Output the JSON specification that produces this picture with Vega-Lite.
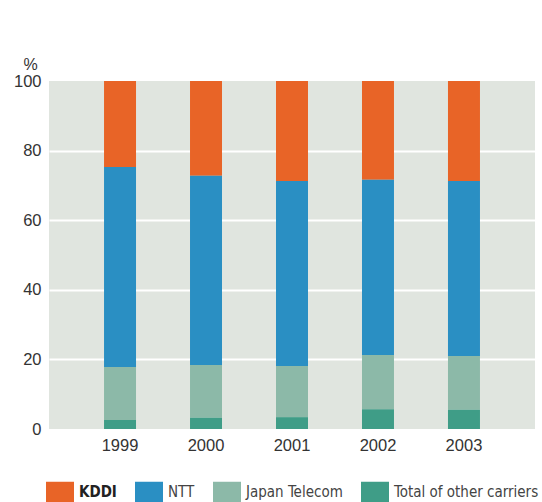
{
  "$schema": "https://vega.github.io/schema/vega-lite/v6.json",
  "autosize": "none",
  "width": 486,
  "height": 348,
  "padding": {"left": 49, "top": 81, "right": 7, "bottom": 73},
  "background": "white",
  "data": {
    "values": [
      {"year": "1999", "carrier": "KDDI", "order": 4, "share": 24.7},
      {"year": "1999", "carrier": "NTT", "order": 3, "share": 57.5},
      {"year": "1999", "carrier": "Japan Telecom", "order": 2, "share": 15.2},
      {"year": "1999", "carrier": "Total of other carriers", "order": 1, "share": 2.6},
      {"year": "2000", "carrier": "KDDI", "order": 4, "share": 27.2},
      {"year": "2000", "carrier": "NTT", "order": 3, "share": 54.4},
      {"year": "2000", "carrier": "Japan Telecom", "order": 2, "share": 15.2},
      {"year": "2000", "carrier": "Total of other carriers", "order": 1, "share": 3.2},
      {"year": "2001", "carrier": "KDDI", "order": 4, "share": 28.7},
      {"year": "2001", "carrier": "NTT", "order": 3, "share": 53.2},
      {"year": "2001", "carrier": "Japan Telecom", "order": 2, "share": 14.7},
      {"year": "2001", "carrier": "Total of other carriers", "order": 1, "share": 3.4},
      {"year": "2002", "carrier": "KDDI", "order": 4, "share": 28.4},
      {"year": "2002", "carrier": "NTT", "order": 3, "share": 50.3},
      {"year": "2002", "carrier": "Japan Telecom", "order": 2, "share": 15.6},
      {"year": "2002", "carrier": "Total of other carriers", "order": 1, "share": 5.7},
      {"year": "2003", "carrier": "KDDI", "order": 4, "share": 28.7},
      {"year": "2003", "carrier": "NTT", "order": 3, "share": 50.3},
      {"year": "2003", "carrier": "Japan Telecom", "order": 2, "share": 15.5},
      {"year": "2003", "carrier": "Total of other carriers", "order": 1, "share": 5.5}
    ]
  },
  "mark": {"type": "bar"},
  "encoding": {
    "x": {
      "field": "year",
      "type": "ordinal",
      "scale": {"paddingInner": 0.628, "paddingOuter": 0.64},
      "axis": {
        "title": null,
        "labelAngle": 0,
        "ticks": false,
        "domain": false,
        "labelPadding": 8,
        "labelFont": "Liberation Sans",
        "labelFontSize": 16.5,
        "labelColor": "#333333"
      }
    },
    "y": {
      "field": "share",
      "type": "quantitative",
      "stack": "zero",
      "scale": {"domain": [0, 100], "nice": false},
      "axis": {
        "values": [0, 20, 40, 60, 80, 100],
        "title": "%",
        "titleAngle": 0,
        "titleAlign": "center",
        "titleBaseline": "alphabetic",
        "titleX": -19,
        "titleY": -12,
        "titleFont": "Liberation Sans",
        "titleFontSize": 16,
        "titleFontWeight": "normal",
        "titleColor": "#333333",
        "ticks": false,
        "domain": false,
        "labelPadding": 8,
        "labelFont": "Liberation Sans",
        "labelFontSize": 16.5,
        "labelColor": "#333333",
        "gridColor": "#ffffff",
        "gridWidth": 2,
        "gridOpacity": {"condition": {"test": "datum.value === 0 || datum.value === 100", "value": 0}, "value": 1}
      }
    },
    "color": {
      "field": "carrier",
      "type": "nominal",
      "scale": {
        "domain": ["KDDI", "NTT", "Japan Telecom", "Total of other carriers"],
        "range": ["#e86427", "#2a8fc3", "#8cb9a8", "#3f9d87"]
      },
      "legend": {
        "title": null,
        "orient": "none",
        "legendX": -3,
        "legendY": 397,
        "direction": "horizontal",
        "columns": 4,
        "columnPadding": 18,
        "symbolType": "M-1,-0.75H1V0.75H-1Z",
        "symbolSize": 784,
        "symbolStrokeWidth": 0,
        "symbolOpacity": 1,
        "labelFont": "DejaVu Sans Condensed, Liberation Sans",
        "labelFontSize": 15,
        "labelColor": "#444444",
        "labelOffset": 5,
        "labelLimit": 300,
        "encode": {
          "labels": {
            "update": {
              "fontWeight": {"signal": "datum.value === 'KDDI' ? 'bold' : 'normal'"},
              "fill": {"signal": "datum.value === 'KDDI' ? '#222222' : '#444444'"}
            }
          }
        }
      }
    },
    "order": {"field": "order", "type": "quantitative"}
  },
  "config": {
    "view": {"fill": "#e0e5df", "stroke": null}
  }
}
